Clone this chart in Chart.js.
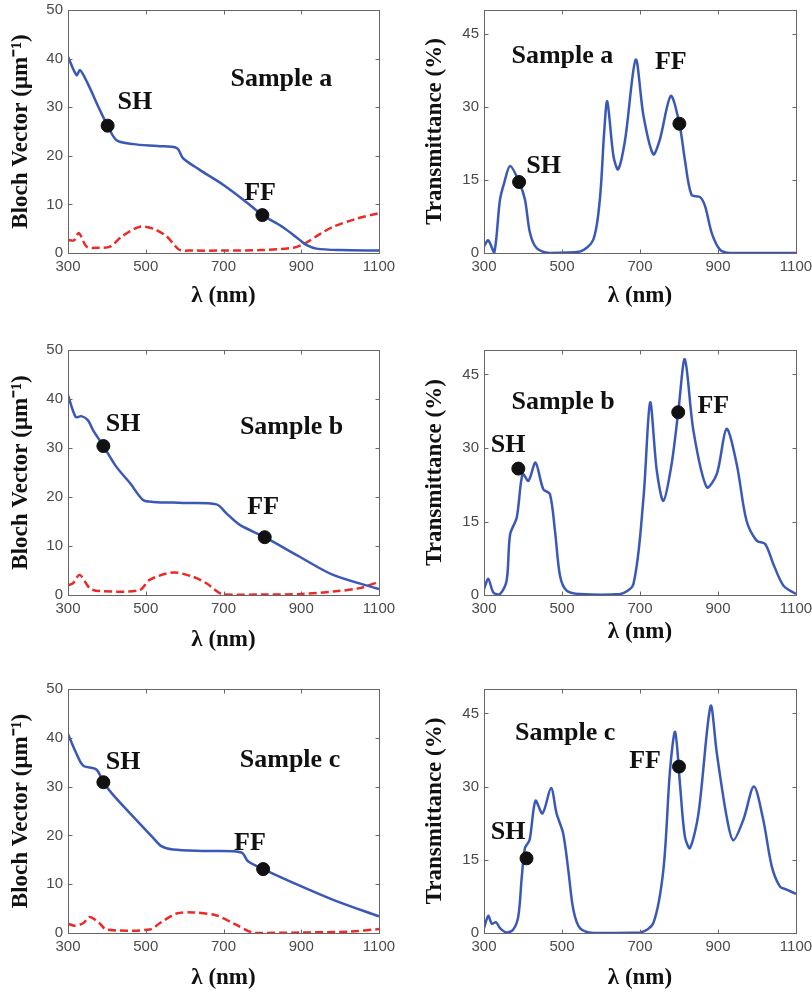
<!DOCTYPE html>
<html>
<head>
<meta charset="utf-8">
<script src="https://cdn.jsdelivr.net/npm/chart.js@4.4.1/dist/chart.umd.min.js"></script>
<style>
  body { margin: 0; background: #fff; }
  #page { position: relative; width: 812px; height: 993px; overflow: hidden; }
  #page canvas { position: absolute; }
</style>
</head>
<body>
<div id="page"></div>
<script>
// tick labels
const xTicks = [300, 500, 700, 900, 1100];
const blochTicks = [0, 10, 20, 30, 40, 50];
const transTicks = [0, 15, 30, 45];

// Sample a
const blochAWl = [300, 322, 331, 350, 382, 402, 425, 468, 530, 580, 596, 639, 700, 760, 800, 853, 896, 914, 939, 1000, 1100];
const blochARe = [40.4, 36.6, 37.6, 35.0, 29.4, 26.2, 23.2, 22.4, 22.0, 21.6, 19.5, 17.1, 14.0, 10.4, 7.8, 5.3, 2.7, 1.6, 0.9, 0.6, 0.5];
const blochAImWl = [300, 315, 328, 348, 380, 408, 440, 485, 520, 554, 575, 588, 620, 700, 800, 880, 910, 950, 982, 1040, 1100];
const blochAIm = [2.7, 2.6, 4.1, 1.3, 1.1, 1.3, 3.5, 5.4, 5.0, 3.4, 1.5, 0.6, 0.5, 0.5, 0.6, 1.1, 2.0, 4.0, 5.4, 7.0, 8.2];
const transAWl = [300, 311, 326, 341, 352, 367, 390, 405, 418, 435, 469, 546, 580, 597, 608, 616, 632, 644, 662, 689, 709, 734, 751, 779, 801, 815, 832, 854, 867, 884, 905, 931, 1100];
const transA = [1.4, 2.6, 0, 11, 14.5, 17.9, 14.6, 11, 4.1, 1, 0, 0.3, 2.7, 11, 24.7, 31.2, 19.9, 17.2, 23.4, 39.8, 28.2, 20.3, 23.4, 32.3, 26.6, 19.2, 12, 11.5, 9.6, 4.1, 0.7, 0, 0];
const blochAMarks = [[402, 26.2], [800, 7.8]];
const transAMarks = [[390, 14.6], [801, 26.6]];

// Sample b
const blochBWl = [300, 320, 334, 351, 364, 391, 424, 460, 493, 519, 596, 682, 707, 742, 806, 896, 982, 1100];
const blochBRe = [40.8, 36.3, 36.5, 35.7, 33.7, 30.4, 26.2, 22.8, 19.4, 19.0, 18.8, 18.5, 16.7, 14.3, 11.8, 7.8, 4.1, 1.2];
const blochBImWl = [300, 313, 330, 356, 381, 484, 510, 570, 622, 656, 699, 800, 900, 982, 1050, 1100];
const blochBIm = [2.0, 2.4, 4.1, 1.4, 0.8, 1.0, 3.1, 4.6, 3.7, 2.4, 0.1, 0.1, 0.2, 0.7, 1.4, 2.7];
const transBWl = [300, 311, 324, 341, 358, 367, 384, 399, 414, 432, 452, 469, 482, 495, 512, 546, 649, 683, 709, 726, 743, 760, 781, 798, 815, 837, 871, 897, 922, 948, 973, 999, 1021, 1042, 1068, 1100];
const transB = [1.2, 3.3, 0.5, 0.2, 2.9, 12.4, 15.8, 24.7, 23.3, 27, 21.6, 20.6, 13.1, 3.9, 0.9, 0.2, 0.2, 2.2, 19.9, 39.3, 25.4, 19.2, 26.7, 37.3, 48.1, 33.5, 22, 24.7, 33.9, 26.7, 15.2, 11.1, 10.4, 6.3, 1.9, 0.2];
const blochBMarks = [[391, 30.4], [806, 11.8]];
const transBMarks = [[388, 25.8], [798, 37.3]];

// Sample c
const blochCWl = [300, 321, 339, 373, 391, 416, 467, 519, 540, 570, 656, 746, 763, 802, 896, 982, 1100];
const blochCRe = [40.8, 36.9, 34.3, 33.5, 30.9, 28.3, 23.9, 19.5, 17.8, 17.1, 16.8, 16.5, 14.7, 13.1, 9.7, 6.8, 3.4];
const blochCImWl = [300, 317, 339, 356, 381, 399, 510, 536, 579, 622, 682, 725, 780, 900, 1025, 1100];
const blochCIm = [1.9, 1.5, 2.0, 3.3, 2.0, 0.7, 0.7, 2.0, 4.0, 4.2, 3.6, 2.0, 0.0, 0.1, 0.3, 0.8];
const transCWl = [300, 311, 320, 331, 341, 358, 375, 388, 397, 405, 417, 432, 450, 472, 486, 503, 516, 529, 546, 580, 700, 734, 760, 777, 790, 803, 815, 828, 850, 881, 897, 922, 939, 965, 992, 1016, 1038, 1059, 1076, 1100];
const transC = [1.0, 3.5, 1.9, 2.2, 1.0, 0.1, 0.7, 3.4, 11.6, 17.4, 19.1, 27.1, 24.5, 29.7, 24.5, 20.4, 13, 4.8, 1, 0, 0.1, 2, 13, 33.4, 41.2, 30, 19.8, 17.4, 24.5, 46.5, 36.8, 23.9, 19, 23.2, 30, 23.2, 13.6, 9.5, 8.9, 8.0];
const blochCMarks = [[391, 30.9], [802, 13.1]];
const transCMarks = [[409, 15.3], [800, 34.1]];

const BLUE = "#3a58b8";
const RED = "#ec2a26";
const serif = "'Liberation Serif', 'Times New Roman', serif";
const sans = "'Liberation Sans', Arial, sans-serif";

// page layout of the six panels
const cols = [
    { left: 0, width: 400, axisW: 68, padRight: 21, yTitlePad: 10 },
    { left: 400, width: 412, axisW: 84, padRight: 16, yTitlePad: 24 }
];
const rows = [
    { top: 0, height: 310, plotTop: 10, plotBottom: 253, titleY: [296, 296] },
    { top: 318, height: 338, plotTop: 350, plotBottom: 595, titleY: [640, 632] },
    { top: 660, height: 333, plotTop: 689, plotBottom: 933, titleY: [978, 978] }
];

const pts = (xs, ys) => xs.map((x, i) => ({ x, y: ys[i] }));

const frame = {
    id: "frame",
    afterDraw(chart) {
        const { ctx, chartArea: a, scales } = chart;
        ctx.save();
        ctx.strokeStyle = "#666";
        ctx.lineWidth = 1;
        const L = Math.round(a.left) + 0.5, R = Math.round(a.right) + 0.5;
        const T = Math.round(a.top) + 0.5, B = Math.round(a.bottom) + 0.5;
        ctx.strokeRect(L, T, R - L, B - T);
        ctx.beginPath();
        scales.x.ticks.forEach(t => {
            const px = Math.round(scales.x.getPixelForValue(t.value)) + 0.5;
            ctx.moveTo(px, B); ctx.lineTo(px, B - 4);
            ctx.moveTo(px, T); ctx.lineTo(px, T + 4);
        });
        scales.y.ticks.forEach(t => {
            const py = Math.round(scales.y.getPixelForValue(t.value)) + 0.5;
            ctx.moveTo(L, py); ctx.lineTo(L + 4, py);
            ctx.moveTo(R, py); ctx.lineTo(R - 4, py);
        });
        ctx.stroke();
        ctx.restore();
    }
};

const notes = {
    id: "notes",
    afterDraw(chart, args, opts) {
        const { ctx, scales } = chart;
        ctx.save();
        ctx.fillStyle = "#111";
        ctx.font = "bold 26px " + serif;
        ctx.textAlign = "center";
        ctx.textBaseline = "middle";
        (opts.items || []).forEach(([text, x, y]) => {
            ctx.fillText(text, scales.x.getPixelForValue(x), scales.y.getPixelForValue(y));
        });
        ctx.restore();
    }
};

function makePanel(ci, ri, kind, lines, marks, items) {
    const col = cols[ci], row = rows[ri];
    const canvas = document.createElement("canvas");
    canvas.width = col.width;
    canvas.height = row.height;
    canvas.style.left = col.left + "px";
    canvas.style.top = row.top + "px";
    document.getElementById("page").appendChild(canvas);

    const xH = row.top + row.height - row.plotBottom;
    const titlePadB = row.top + row.height - row.titleY[ci] - 11.5;
    const yTicks = kind === "bloch" ? blochTicks : transTicks;

    const datasets = [{
        type: "scatter",
        data: marks.map(([x, y]) => ({ x, y })),
        pointRadius: 6.5,
        pointBackgroundColor: "#111",
        pointBorderColor: "#111",
        clip: false
    }].concat(lines.map(l => ({
        data: pts(l.x, l.y),
        borderColor: l.color,
        borderWidth: 2.5,
        borderDash: l.dash || [],
        pointRadius: 0,
        fill: false,
        tension: 0.3
    })));

    new Chart(canvas, {
        type: "line",
        data: { datasets },
        plugins: [frame, notes],
        options: {
            responsive: false,
            animation: false,
            events: [],
            layout: { padding: { top: row.plotTop - row.top, right: col.padRight, left: 0, bottom: 0 } },
            plugins: {
                legend: { display: false },
                tooltip: { enabled: false },
                notes: { items }
            },
            scales: {
                x: {
                    type: "linear", min: 300, max: 1100,
                    grid: { display: false, drawTicks: false },
                    border: { display: false },
                    afterBuildTicks: s => { s.ticks = xTicks.map(v => ({ value: v })); },
                    afterFit: s => { s.height = xH; s.paddingLeft = 0; s.paddingRight = 0; },
                    ticks: {
                        padding: 5, color: "#4a4a4a", font: { family: sans, size: 15 },
                        maxRotation: 0, autoSkip: false, callback: v => String(v)
                    },
                    title: {
                        display: true, text: "λ (nm)", color: "#111",
                        font: { family: serif, size: 23, weight: "bold", lineHeight: 1 },
                        padding: { top: 0, bottom: titlePadB }
                    }
                },
                y: {
                    type: "linear", min: 0, max: 50,
                    grid: { display: false, drawTicks: false },
                    border: { display: false },
                    afterBuildTicks: s => { s.ticks = yTicks.map(v => ({ value: v })); },
                    afterFit: s => { s.width = col.axisW; s.paddingTop = 0; s.paddingBottom = 0; },
                    ticks: { padding: 5, color: "#4a4a4a", font: { family: sans, size: 15 }, callback: v => String(v) },
                    title: {
                        display: true,
                        text: kind === "bloch" ? "Bloch Vector (μm⁻¹)" : "Transmittance (%)",
                        color: "#111",
                        font: { family: serif, size: 23, weight: "bold", lineHeight: 1 },
                        padding: { top: col.yTitlePad, bottom: 0 }
                    }
                }
            }
        }
    });
}

makePanel(0, 0, "bloch",
    [{ x: blochAWl, y: blochARe, color: BLUE }, { x: blochAImWl, y: blochAIm, color: RED, dash: [8, 4] }],
    blochAMarks, [["Sample a", 849, 35.7], ["SH", 472, 31], ["FF", 794, 12.3]]);
makePanel(1, 0, "trans",
    [{ x: transAWl, y: transA, color: BLUE }],
    transAMarks, [["Sample a", 501, 40.5], ["SH", 453, 17.9], ["FF", 779, 39.2]]);

makePanel(0, 1, "bloch",
    [{ x: blochBWl, y: blochBRe, color: BLUE }, { x: blochBImWl, y: blochBIm, color: RED, dash: [8, 4] }],
    blochBMarks, [["Sample b", 875, 34.3], ["SH", 442, 34.8], ["FF", 802, 18]]);
makePanel(1, 1, "trans",
    [{ x: transBWl, y: transB, color: BLUE }],
    transBMarks, [["Sample b", 503, 39.4], ["SH", 362, 30.5], ["FF", 888, 38.5]]);

makePanel(0, 2, "bloch",
    [{ x: blochCWl, y: blochCRe, color: BLUE }, { x: blochCImWl, y: blochCIm, color: RED, dash: [8, 4] }],
    blochCMarks, [["Sample c", 871, 35.3], ["SH", 442, 34.9], ["FF", 768, 18.4]]);
makePanel(1, 2, "trans",
    [{ x: transCWl, y: transC, color: BLUE }],
    transCMarks, [["Sample c", 508, 40.9], ["SH", 362, 20.7], ["FF", 713, 35.1]]);
</script>
</body>
</html>
